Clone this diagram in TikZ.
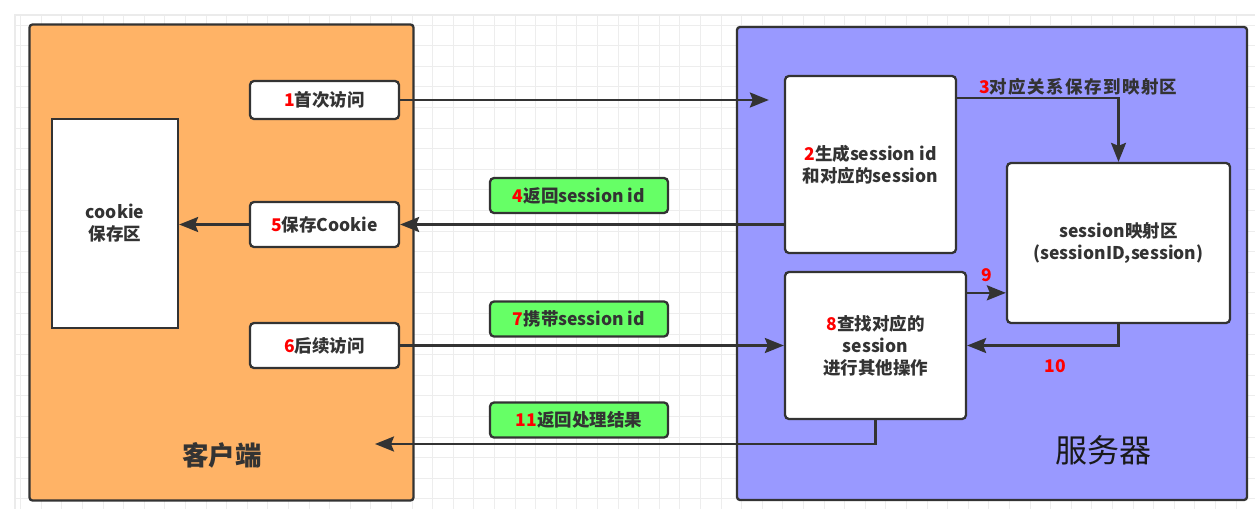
\documentclass[tikz,border=0pt]{standalone}
\usepackage{fontspec}
\setmainfont{Noto Sans CJK SC}
\usepackage{tikz}
\usetikzlibrary{positioning,arrows.meta}
\definecolor{clientorange}{HTML}{FFB366}
\definecolor{serverblue}{HTML}{9999FF}
\definecolor{msggreen}{HTML}{66FF66}
\definecolor{boxline}{HTML}{333333}
\definecolor{gridcol}{HTML}{EDEDED}
\definecolor{numred}{HTML}{FF0000}
\newcommand{\stepnum}[1]{\textcolor{numred}{#1}}
\newcommand{\labfont}{\fontsize{17.5}{22}\selectfont\bfseries}

\begin{document}
\begin{tikzpicture}[x=1pt, y=-1pt,
    area/.style = {draw=boxline, line width=2.3pt, rounded corners=3pt, inner sep=0pt},
    stepbox/.style = {draw=boxline, fill=white, line width=2.3pt, rounded corners=4pt, inner sep=0pt, align=center, text=boxline, font=\labfont},
    msgbox/.style = {stepbox, fill=msggreen, minimum width=178pt, minimum height=35pt},
    arr/.style = {draw=boxline, line width=2.4pt, -{Stealth[length=19pt, width=15pt, inset=3pt]}},
    gridline/.style = {draw=gridcol, line width=1pt}]
            \useasboundingbox (0,0) rectangle (1255,509);
            % Background grid
            \foreach \gx in {20.6,41.2,...,1255} \draw[gridline] (\gx,15) -- (\gx,509);
            \foreach \gy in {25,45.6,...,509} \draw[gridline] (15,\gy) -- (1255,\gy);
            \draw[draw=gridcol!80!black!30, line width=1.5pt] (15,509) -- (15,15) -- (1255,15);
            % Areas
            \node[area, fill=clientorange, minimum width=384pt, minimum height=476pt] (client) at (221.5,262.5) {};
            \node[area, fill=serverblue, minimum width=510pt, minimum height=473pt] (server) at (992,263.5) {};
            % Client nodes
            \node[stepbox, rounded corners=0pt, minimum width=126pt, minimum height=209pt] (cookie) at (115,223.5) {cookie\\保存区};
            \node[stepbox, minimum width=149pt, minimum height=38pt] (b1) at (324.5,100) {\stepnum{1}首次访问};
            \node[stepbox, minimum width=149pt, minimum height=45pt] (b5) at (324.5,224.5) {\stepnum{5}保存Cookie};
            \node[stepbox, minimum width=149pt, minimum height=45pt] (b6) at (324.5,345.5) {\stepnum{6}后续访问};
            \node[text=boxline, font=\fontsize{26.5}{30}\selectfont\bfseries] (clabel) at (222,455) {客户端};
            % Messages
            \node[msgbox] (g4) at (579,195.5) {\stepnum{4}返回session id};
            \node[msgbox] (g7) at (579,319) {\stepnum{7}携带session id};
            \node[msgbox] (g11) at (579,420) {\stepnum{11}返回处理结果};
            % Server nodes
            \node[stepbox, minimum width=171pt, minimum height=177pt] (b2) at (870.5,164.5) {\stepnum{2}生成session id\\和对应的session};
            \node[stepbox, minimum width=223pt, minimum height=160pt] (map) at (1118.5,243) {session映射区\\(sessionID,session)};
            \node[stepbox, minimum width=181pt, minimum height=147pt] (b8) at (875.5,345.5) {\stepnum{8}查找对应的\\session\\进行其他操作};
            \node[anchor=west, inner sep=0pt, text=boxline, font=\labfont\addfontfeatures{LetterSpace=8}] (l3) at (979,87) {\stepnum{3}对应关系保存到映射区};
            \node[text=numred, font=\labfont] (l9) at (986.5,275) {9};
            \node[text=numred, font=\labfont] (l10) at (1055,366) {10};
            \node[text=black!90, font=\fontsize{32}{36}\selectfont] (slabel) at (1103,450) {服务器};
            % Edges
            \coordinate (back) at (375,444);
            \coordinate (p3) at ([yshift=-23pt]b2.north east);
            \coordinate (p9) at ([yshift=-22pt]b8.north east);
            \draw[arr, shorten >=15pt] (b1.east) -- (b1.east -| b2.west);
            \draw[arr] (b2.west |- b5.east) -- (b5.east);
            \draw[arr] (b5.west) -- (b5.west -| cookie.east);
            \draw[arr] (b6.east) -- (b8.west);
            \draw[arr] (b8.south) |- (back);
            \draw[arr] (p3) -| (map.north);
            \draw[arr] (p9) -- (p9 -| map.west);
            \draw[arr] (map.south) |- (b8.east);
\end{tikzpicture}
\end{document}
